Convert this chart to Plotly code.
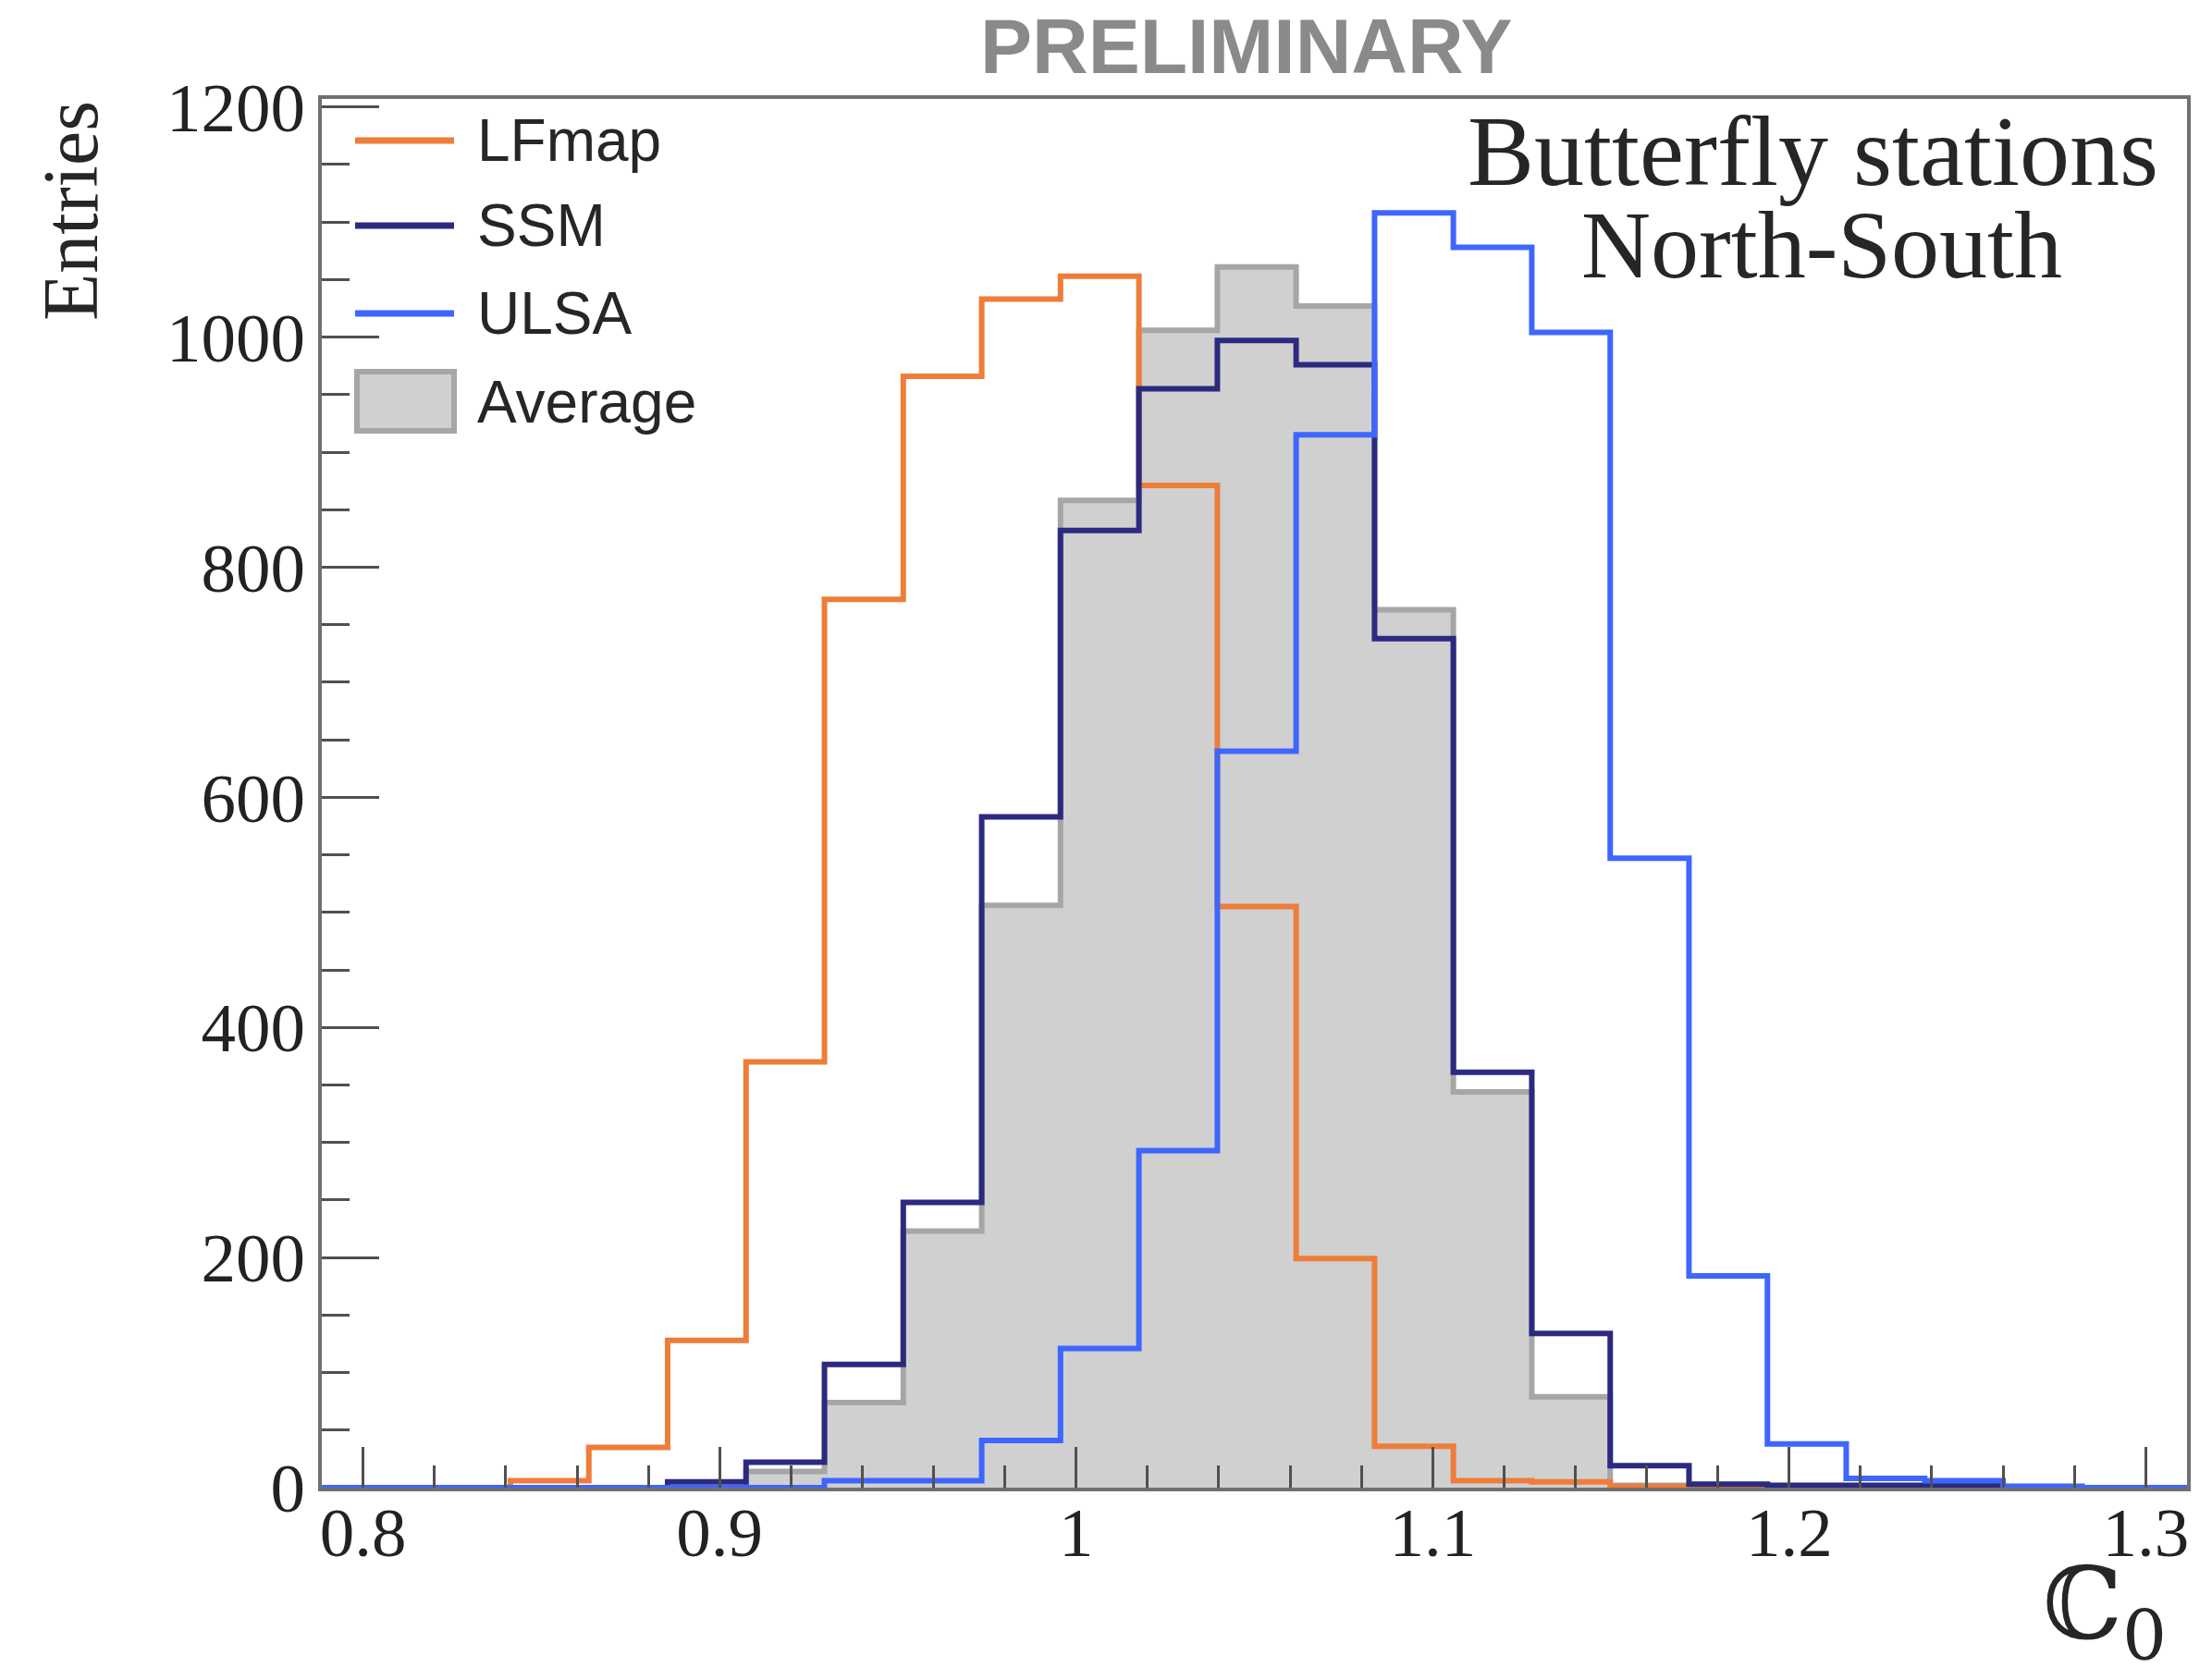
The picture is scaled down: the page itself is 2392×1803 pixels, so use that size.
import plotly.graph_objects as go

# ---------------- data ----------------
bin_edges = [0.7752, 0.7972, 0.8192, 0.8413, 0.8633, 0.8854, 0.9074, 0.9294, 0.9515,
             0.9735, 0.9956, 1.0176, 1.0396, 1.0617, 1.0837, 1.1058, 1.1278, 1.1498,
             1.1719, 1.1939, 1.2160, 1.2380, 1.2600, 1.2821, 1.3041, 1.3262, 1.3482]
lfmap   = [0, 0, 0, 6, 35, 128, 370, 772, 966, 1033, 1053, 871, 505, 199, 36, 6, 5, 1, 0, 0, 0, 0, 0, 0, 0, 0]
ssm     = [0, 0, 0, 0, 0, 5, 22, 107, 248, 583, 832, 955, 997, 976, 738, 361, 134, 19, 3, 2, 2, 2, 1, 0, 0, 0]
ulsa    = [0, 0, 0, 0, 0, 0, 0, 6, 6, 41, 121, 293, 640, 915, 1108, 1078, 1004, 547, 184, 38, 8, 6, 1, 0, 0, 0]
average = [0, 0, 0, 0, 0, 0, 14, 74, 223, 506, 858, 1006, 1061, 1027, 763, 344, 79, 2, 1, 0, 0, 0, 0, 0, 0, 0]

series_names = ["LFmap", "SSM", "ULSA", "Average"]
x_tickvals = [0.8, 0.9, 1.0, 1.1, 1.2, 1.3]
x_ticktext = ["0.8", "0.9", "1", "1.1", "1.2", "1.3"]
y_tickvals = [0, 200, 400, 600, 800, 1000, 1200]
y_ticktext = ["0", "200", "400", "600", "800", "1000", "1200"]

# ---------------- style ----------------
W, H = 2392, 1803
L, R, T, B = 348, 27, 107, 194
PW, PH = W - L - R, H - T - B
C_LF, C_SSM, C_ULSA = "#ee7d3a", "#2b2a80", "#3e66ff"
C_FILL, C_FILL_LINE = "#d0d0d0", "#a6a6a6"
LW = 6


def px(xp):
    return (xp - L) / PW


def py(yp):
    return (H - B - yp) / PH


def step(vals):
    return list(vals) + [vals[-1]]


fig = go.Figure()
fig.add_trace(go.Scatter(x=bin_edges, y=step(average), mode="lines", line_shape="hv",
                         line=dict(color=C_FILL_LINE, width=LW), fill="tozeroy",
                         fillcolor=C_FILL, name=series_names[3], showlegend=False))
fig.add_trace(go.Scatter(x=bin_edges, y=step(lfmap), mode="lines", line_shape="hv",
                         line=dict(color=C_LF, width=LW), name=series_names[0], showlegend=False))
fig.add_trace(go.Scatter(x=bin_edges, y=step(ssm), mode="lines", line_shape="hv",
                         line=dict(color=C_SSM, width=LW), name=series_names[1], showlegend=False))
fig.add_trace(go.Scatter(x=bin_edges, y=step(ulsa), mode="lines", line_shape="hv",
                         line=dict(color=C_ULSA, width=LW), name=series_names[2], showlegend=False))

tickfont = dict(family="Liberation Serif", size=75, color="#222222")
axis_common = dict(showgrid=False, zeroline=False, showline=True, mirror=True,
                   linecolor="#707070", linewidth=4, ticks="inside",
                   tickcolor="#505050", tickwidth=3, tickfont=tickfont)

fig.update_xaxes(range=[0.7884, 1.3116], tickvals=x_tickvals, ticktext=x_ticktext,
                 ticklen=44, ticklabelstandoff=-20,
                 minor=dict(dtick=0.02, tick0=0.8, ticks="inside", ticklen=24,
                            tickcolor="#505050", tickwidth=3),
                 **axis_common)
fig.update_yaxes(range=[0, 1207], tickvals=y_tickvals, ticktext=y_ticktext,
                 ticklen=62, ticklabelstandoff=-1,
                 minor=dict(dtick=50, tick0=0, ticks="inside", ticklen=30,
                            tickcolor="#505050", tickwidth=3),
                 **axis_common)

shapes = []
annotations = []
# manual legend (ROOT style)
leg_y = [152, 244, 339]
leg_colors = [C_LF, C_SSM, C_ULSA]
legend_font = dict(family="Liberation Sans", size=64, color="#262626")
for yy, col, nm in zip(leg_y, leg_colors, series_names[:3]):
    shapes.append(dict(type="line", xref="paper", yref="paper", x0=px(384), x1=px(491),
                       y0=py(yy), y1=py(yy), line=dict(color=col, width=7)))
    annotations.append(dict(xref="paper", yref="paper", x=px(514), y=py(yy), text=nm,
                            showarrow=False, xanchor="left", yanchor="middle",
                            font=legend_font))
shapes.append(dict(type="rect", xref="paper", yref="paper", x0=px(386), x1=px(491),
                   y0=py(466), y1=py(402), fillcolor=C_FILL,
                   line=dict(color=C_FILL_LINE, width=LW)))
annotations.append(dict(xref="paper", yref="paper", x=px(514), y=py(435), text=series_names[3],
                        showarrow=False, xanchor="left", yanchor="middle",
                        font=legend_font))

annotations += [
    dict(xref="paper", yref="paper", x=px(1348), y=py(50), text="<b>PRELIMINARY</b>",
         showarrow=False, xanchor="center", yanchor="middle",
         font=dict(family="Liberation Sans", size=84, color="#8a8a8a")),
    dict(xref="paper", yref="paper", x=px(1960), y=py(164), text="Butterfly stations",
         showarrow=False, xanchor="center", yanchor="middle",
         font=dict(family="Liberation Serif", size=108, color="#262626")),
    dict(xref="paper", yref="paper", x=px(1970), y=py(264), text="North-South",
         showarrow=False, xanchor="center", yanchor="middle",
         font=dict(family="Liberation Serif", size=104, color="#262626")),
    dict(xref="paper", yref="paper", x=px(76), y=py(107), text="Entries",
         showarrow=False, xanchor="center", yanchor="top", textangle=-90,
         font=dict(family="Liberation Serif", size=84, color="#262626")),
    dict(xref="paper", yref="paper", x=px(2345), y=py(1815), text="ℂ<sub>0</sub>",
         showarrow=False, xanchor="right", yanchor="bottom",
         font=dict(family="DejaVu Serif", size=108, color="#262626")),
]

fig.update_layout(width=W, height=H, margin=dict(l=L, r=R, t=T, b=B, pad=0),
                  plot_bgcolor="white", paper_bgcolor="white",
                  shapes=shapes, annotations=annotations, showlegend=False)

fig.write_html("out.html", config={"displayModeBar": False},
               post_script="document.body.style.margin='0px';document.body.style.overflow='hidden';")
